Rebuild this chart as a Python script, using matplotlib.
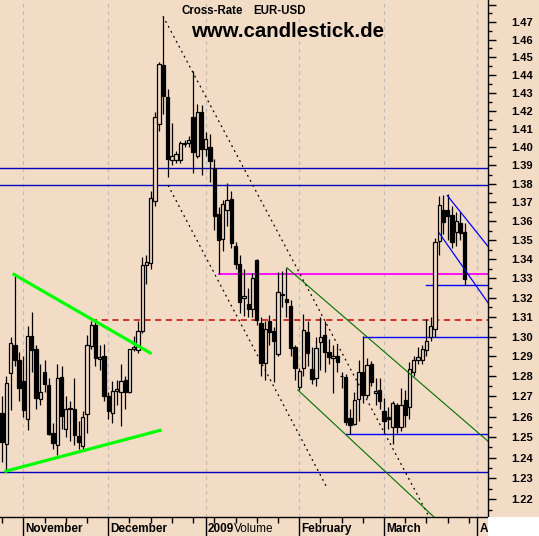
import matplotlib
matplotlib.use('Agg')
import matplotlib.pyplot as plt
from matplotlib.patches import Rectangle
import numpy as np

plt.rcParams['font.family'] = ['Liberation Sans', 'DejaVu Sans']

# daily EUR-USD candles, 27 Oct 2008 .. 27 Mar 2009 (trading days only)
opens = [1.2615, 1.2468, 1.2817, 1.2955, 1.2880, 1.2775, 1.2590, 1.3002, 1.2934, 1.2685,
         1.2820, 1.2755, 1.2517, 1.2460, 1.2794, 1.2542, 1.2638, 1.2638, 1.2504, 1.2455,
         1.2614, 1.2955, 1.3060, 1.2885, 1.2898, 1.2702, 1.2617, 1.2728, 1.2720, 1.2780,
         1.2723, 1.2940, 1.2932, 1.3028, 1.3368, 1.3381, 1.3710, 1.4128, 1.4452, 1.4272,
         1.3928, 1.3930, 1.3927, 1.4018, 1.4020, 1.4161, 1.3952, 1.4193, 1.3990, 1.4000,
         1.3885, 1.3636, 1.3506, 1.3660, 1.3714, 1.3469, 1.3372, 1.3200, 1.3165, 1.3143,
         1.3393, 1.3066, 1.2868, 1.3078, 1.3025, 1.2913, 1.3214, 1.3189, 1.3157, 1.2948,
         1.2746, 1.2842, 1.3022, 1.2837, 1.2793, 1.2973, 1.3007, 1.2918, 1.2890, 1.2901,
         1.2800, 1.2797, 1.2590, 1.2566, 1.2687, 1.2820, 1.2707, 1.2860, 1.2715, 1.2730,
         1.2627, 1.2595, 1.2550, 1.2655, 1.2550, 1.2680, 1.2647, 1.2822, 1.2880, 1.2880,
         1.2932, 1.2998, 1.3040, 1.3495, 1.3660, 1.3660, 1.3630, 1.3540, 1.3590, 1.3542]
highs = [1.2700, 1.2800, 1.3000, 1.3320, 1.2920, 1.2900, 1.3055, 1.3126, 1.2960, 1.2860,
         1.2880, 1.2790, 1.2570, 1.2864, 1.2850, 1.2700, 1.2680, 1.2790, 1.2580, 1.2630,
         1.3010, 1.3080, 1.3085, 1.2960, 1.2963, 1.2720, 1.2775, 1.2780, 1.2860, 1.2804,
         1.2940, 1.3002, 1.3080, 1.3413, 1.3420, 1.3760, 1.4190, 1.4475, 1.4730, 1.4320,
         1.4130, 1.3980, 1.4030, 1.4040, 1.4060, 1.4420, 1.4235, 1.4230, 1.4080, 1.4070,
         1.3935, 1.3676, 1.3713, 1.3806, 1.3760, 1.3490, 1.3420, 1.3350, 1.3250, 1.3330,
         1.3403, 1.3100, 1.3080, 1.3110, 1.3050, 1.3335, 1.3340, 1.3355, 1.3187, 1.2960,
         1.2840, 1.3118, 1.3080, 1.2950, 1.3000, 1.3100, 1.3080, 1.2990, 1.2960, 1.2960,
         1.2820, 1.2810, 1.2640, 1.2720, 1.2880, 1.3002, 1.2890, 1.2875, 1.2790, 1.2790,
         1.2690, 1.2650, 1.2680, 1.2670, 1.2740, 1.2734, 1.2870, 1.2900, 1.2950, 1.2960,
         1.3090, 1.3100, 1.3510, 1.3733, 1.3740, 1.3745, 1.3680, 1.3650, 1.3650, 1.3590]
lows = [1.2380, 1.2330, 1.2635, 1.2850, 1.2680, 1.2598, 1.2537, 1.2822, 1.2640, 1.2660,
        1.2720, 1.2510, 1.2440, 1.2415, 1.2540, 1.2500, 1.2480, 1.2460, 1.2440, 1.2440,
        1.2520, 1.2940, 1.2850, 1.2830, 1.2680, 1.2587, 1.2569, 1.2660, 1.2556, 1.2638,
        1.2715, 1.2930, 1.2915, 1.3020, 1.3270, 1.3350, 1.3680, 1.4085, 1.4180, 1.3836,
        1.3900, 1.3910, 1.3910, 1.4000, 1.4000, 1.3860, 1.3940, 1.3850, 1.3950, 1.3810,
        1.3555, 1.3323, 1.3440, 1.3572, 1.3460, 1.3350, 1.3120, 1.3104, 1.3102, 1.3100,
        1.3060, 1.2800, 1.2780, 1.2960, 1.2772, 1.2900, 1.3150, 1.3100, 1.2900, 1.2780,
        1.2734, 1.2800, 1.2850, 1.2760, 1.2750, 1.2830, 1.2820, 1.2860, 1.2717, 1.2820,
        1.2740, 1.2560, 1.2513, 1.2560, 1.2580, 1.2670, 1.2690, 1.2750, 1.2660, 1.2640,
        1.2518, 1.2540, 1.2467, 1.2520, 1.2530, 1.2550, 1.2590, 1.2800, 1.2860, 1.2860,
        1.2900, 1.2980, 1.3000, 1.3422, 1.3530, 1.3500, 1.3460, 1.3470, 1.3500, 1.3265]
closes = [1.2475, 1.2765, 1.2965, 1.2884, 1.2740, 1.2635, 1.3004, 1.2933, 1.2690, 1.2720,
          1.2763, 1.2517, 1.2469, 1.2790, 1.2605, 1.2637, 1.2640, 1.2510, 1.2476, 1.2595,
          1.2955, 1.3055, 1.2890, 1.2895, 1.2703, 1.2629, 1.2725, 1.2733, 1.2775, 1.2723,
          1.2936, 1.2948, 1.3028, 1.3368, 1.3385, 1.3722, 1.4163, 1.4461, 1.4282, 1.3933,
          1.3948, 1.3960, 1.4022, 1.4022, 1.4035, 1.3971, 1.4193, 1.3991, 1.4040, 1.3925,
          1.3630, 1.3502, 1.3690, 1.3712, 1.3487, 1.3376, 1.3178, 1.3205, 1.3140, 1.3297,
          1.3083, 1.2866, 1.3035, 1.3025, 1.2978, 1.3227, 1.3218, 1.3177, 1.2944, 1.2842,
          1.2824, 1.3031, 1.2915, 1.2785, 1.2940, 1.2998, 1.2922, 1.2895, 1.2901, 1.2873,
          1.2802, 1.2574, 1.2557, 1.2680, 1.2820, 1.2707, 1.2856, 1.2770, 1.2727, 1.2676,
          1.2578, 1.2590, 1.2664, 1.2550, 1.2655, 1.2606, 1.2837, 1.2881, 1.2894, 1.2935,
          1.2975, 1.3050, 1.3490, 1.3683, 1.3595, 1.3630, 1.3489, 1.3600, 1.3536, 1.3295]

# month starts (trading day index) and labels
month_idx = [5, 25, 48, 70, 90, 112]
month_labels = ['November', 'December', '2009', 'February', 'March', 'April']
monday_idx = list(range(0, 115, 5))

# price ticks
price_ticks = [1.22, 1.23, 1.24, 1.25, 1.26, 1.27, 1.28, 1.29, 1.30, 1.31, 1.32, 1.33,
               1.34, 1.35, 1.36, 1.37, 1.38, 1.39, 1.40, 1.41, 1.42, 1.43, 1.44, 1.45,
               1.46, 1.47, 1.48]

# drawn lines: (start index, start price, end index, end price)
full_levels = [1.3887, 1.3791, 1.2330]
part_levels = [(85, 1.3000), (100, 1.3265), (81, 1.2515)]
magenta_level = (51, 1.3320)
red_level = (21, 1.3085)
lime_lines = [(2.8, 1.3320, 34.9, 1.2918), (0.9, 1.2335, 37.2, 1.2533)]
dotted_lines = [(37.9, 1.4734, 100.4, 1.2125), (39.1, 1.3792, 76.6, 1.2254)]
green_lines = [(67.1, 1.3355, 115.0, 1.2471), (69.7, 1.2732, 108.0, 1.2000)]
blue_channel = [(104.9, 1.3737, 115.0, 1.3453), (103.0, 1.3537, 115.0, 1.3158)]

bg = '#F3DCC6'
W, H = 539, 536
fig = plt.figure(figsize=(W / 100, H / 100), dpi=100, facecolor=bg)
ax = fig.add_axes([0, 19 / H, 488 / W, 517 / H])
ax.set_facecolor(bg)
ax.set_yscale('log')
ax.set_xlim(-0.5, 114.5)
ax.set_ylim(1.2116, 1.4827)

# month grid
for m in month_idx:
    ax.axvline(m, color='#BDBDBD', lw=0.9, ls=(0, (3, 3)), zorder=1)

# candles
x = np.arange(len(opens))
o = np.array(opens)
c = np.array(closes)
up = c >= o
ax.vlines(x, lows, highs, color='black', lw=0.9, zorder=3)
ax.bar(x[up], (c - o)[up] + 0.0002, bottom=o[up], width=0.78, facecolor=bg,
       edgecolor='black', linewidth=0.9, zorder=4)
ax.bar(x[~up], (o - c)[~up] + 0.0002, bottom=c[~up], width=0.78, facecolor='black',
       edgecolor='black', linewidth=0.9, zorder=4)

# horizontal levels
for lv in full_levels:
    ax.axhline(lv, color='#0000C0', lw=1.0, zorder=2)
for x0, lv in part_levels:
    ax.plot([x0, 114.5], [lv, lv], color='#0000FF', lw=1.0, zorder=2)
ax.plot([magenta_level[0], 114.5], [magenta_level[1]] * 2, color='#FF00FF', lw=1.3, zorder=2)
ax.plot([red_level[0], 114.5], [red_level[1]] * 2, color='#CC0000', lw=1.1,
        ls=(0, (4, 3)), zorder=2)

# trend lines
for x0, y0, x1, y1 in lime_lines:
    ax.plot([x0, x1], [y0, y1], color='#00FF00', lw=2.3, zorder=5)
for x0, y0, x1, y1 in dotted_lines:
    ax.plot([x0, x1], [y0, y1], color='black', lw=0.9, ls=(0, (1.5, 3)), zorder=5)
for x0, y0, x1, y1 in green_lines:
    ax.plot([x0, x1], [y0, y1], color='#007000', lw=0.8, zorder=5)
for x0, y0, x1, y1 in blue_channel:
    ax.plot([x0, x1], [y0, y1], color='#0000FF', lw=0.9, zorder=5)

# axes styling
for s in ['left', 'top']:
    ax.spines[s].set_visible(False)
ax.spines['right'].set_linewidth(1.0)
ax.spines['bottom'].set_linewidth(1.0)

ax.yaxis.tick_right()
ax.set_yticks(price_ticks)
ax.set_yticklabels(['%.2f' % p if p < 1.475 else '' for p in price_ticks],
                   fontsize=8, fontweight='bold')
ax.set_yticks([p + 0.005 for p in price_ticks[:-1]] + [1.215], minor=True)
ax.yaxis.set_minor_formatter(matplotlib.ticker.NullFormatter())
ax.tick_params(axis='y', which='major', length=6, width=1, pad=11, direction='out')
ax.tick_params(axis='y', which='minor', length=3, width=1, direction='out')

ax.set_xticks(month_idx)
ax.set_xticklabels([])
ax.set_xticks(monday_idx, minor=True)
ax.tick_params(axis='x', which='major', length=14, width=1, direction='out')
ax.tick_params(axis='x', which='minor', length=4, width=1, direction='out')
tr = matplotlib.transforms.blended_transform_factory(ax.transData, ax.transAxes)
for m, lab in zip(month_idx, month_labels):
    ax.text(m + 0.45, -0.0225, lab, transform=tr, ha='left', va='center',
            fontsize=8.5, fontweight='bold', clip_on=False)
ax.text(54.6, -0.0225, 'Volume', transform=tr, ha='left', va='center',
        fontsize=8.5, clip_on=False)

# titles
fig.text(181.5 / W, 1 - 10.5 / H, 'Cross-Rate', fontsize=8.3, fontweight='bold',
         ha='left', va='center')
fig.text(253.5 / W, 1 - 10.5 / H, 'EUR-USD', fontsize=8.3, fontweight='bold',
         ha='left', va='center')
fig.text(191.5 / W, 1 - 31.5 / H, 'www.candlestick.de', fontsize=14.7,
         fontweight='bold', ha='left', va='center')

# blank lower right corner
fig.add_artist(Rectangle((488 / W, 0), 1, 19 / H, transform=fig.transFigure,
                         facecolor='white', edgecolor='none', zorder=20))

fig.savefig('out.png', dpi=100, facecolor=bg)
